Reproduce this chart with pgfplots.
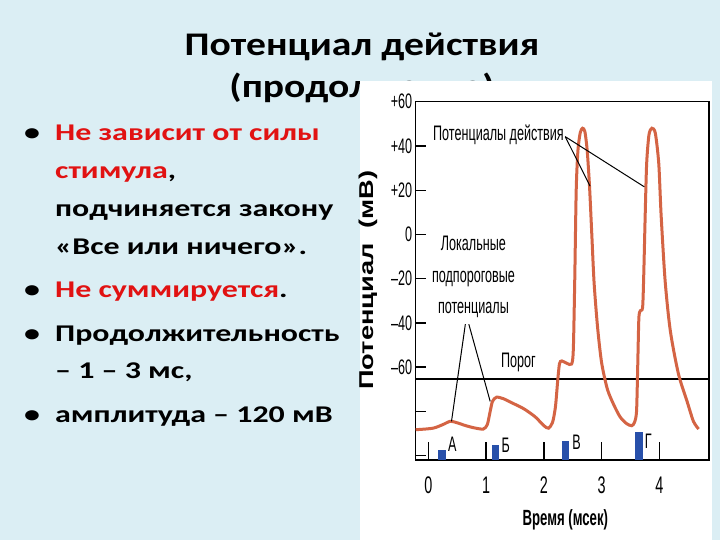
\documentclass[border=0pt]{standalone}
\usepackage{pgfplots}
\pgfplotsset{compat=1.18}
\usepackage{fontspec}
\setmainfont{Carlito}
\newfontfamily\slidefont[FakeStretch=1.2]{Carlito}
\newfontfamily\bulletfont[FakeStretch=1.33]{Carlito}
\newfontfamily\chartfont[FakeStretch=0.6]{Liberation Sans}
\newfontfamily\ylabfont[FakeStretch=1.36]{Liberation Sans}
\definecolor{slidebg}{RGB}{219,238,244}
\definecolor{txtred}{RGB}{225,18,18}
\definecolor{curvec}{RGB}{212,100,68}
\definecolor{stim}{RGB}{40,80,170}
\begin{document}
\begin{tikzpicture}[x=1pt,y=1pt]
\fill[slidebg] (0,0) rectangle (720,540);
% title
\node[anchor=base,font=\slidefont\bfseries\fontsize{33}{36}\selectfont,inner sep=0] at (362,484) {Потенциал действия};
\node[anchor=base,font=\slidefont\bfseries\fontsize{33}{36}\selectfont,inner sep=0] at (362,442.3) {(продолжение)};
% white picture area
\fill[white] (360,0) rectangle (712,458.5);
% bullets
\begin{scope}[every node/.style={anchor=base west,inner sep=0,font=\bulletfont\bfseries\fontsize{24}{28}\selectfont}]
\node at (24,399) {•};
\node at (55,399) {\textcolor{txtred}{Не зависит от силы}};
\node at (55,361) {\textcolor{txtred}{стимула},};
\node at (55,323) {подчиняется закону};
\node at (55,285) {«Все или ничего».};
\node at (24,242) {•};
\node at (55,242) {\textcolor{txtred}{Не суммируется}.};
\node at (24,198) {•};
\node at (55,198) {Продолжительность};
\node at (55,161) {– 1 – 3 мс,};
\node at (24,117) {•};
\node at (55,117) {амплитуда – 120 мВ};
\end{scope}
\begin{axis}[
  at={(415.7pt,80pt)}, anchor=south west,
  scale only axis, width=293.3pt, height=358.3pt,
  xmin=-0.22, xmax=4.86, ymin=-102, ymax=60,
  axis line style={line width=1.5pt},
  tick align=inside,
  xtick pos=bottom, ytick pos=left,
  ytick={-100,-80,-60,-40,-20,0,20,40,60},
  yticklabels={,,–60,–40,–20,0,+20,+40,+60},
  xtick={0,1,2,3,4},
  xticklabels={0,1,2,3,4},
  major tick length=10pt,
  tick style={line width=1.3pt, black},
  xtick style={/pgfplots/major tick length=18pt},
  yticklabel style={font=\chartfont\fontsize{21}{21}\selectfont},
  xticklabel style={font=\chartfont\fontsize{24}{24}\selectfont, yshift=-13pt},
  xlabel={Время (мсек)},
  xlabel style={at={(axis description cs:0.51,-0.167)}, anchor=center, font=\chartfont\bfseries\fontsize{22}{22}\selectfont},
  ylabel={Потенциал\ \ (мВ)},
  ylabel style={at={(axis description cs:-0.163,0.502)}, anchor=center, font=\ylabfont\bfseries\fontsize{20}{20}\selectfont},
  clip=false,
]
% threshold
\addplot[black, line width=1.8pt] coordinates {(-0.22,-65.5) (4.86,-65.5)};
% stimuli
\addplot[fill=stim, draw=none] coordinates {(0.16,-102) (0.30,-102) (0.30,-97.4) (0.16,-97.4)} -- cycle;
\addplot[fill=stim, draw=none] coordinates {(1.10,-102) (1.22,-102) (1.22,-95.2) (1.10,-95.2)} -- cycle;
\addplot[fill=stim, draw=none] coordinates {(2.31,-102) (2.44,-102) (2.44,-93.3) (2.31,-93.3)} -- cycle;
\addplot[fill=stim, draw=none] coordinates {(3.57,-102) (3.71,-102) (3.71,-89.5) (3.57,-89.5)} -- cycle;
% membrane potential
\addplot[curvec, line width=3pt, smooth, tension=0.45] coordinates {
(-0.22,-88.3) (-0.05,-88) (0.1,-87.5) (0.25,-86) (0.38,-84.5) (0.5,-85.2) (0.65,-86.5) (0.8,-87.5) (0.95,-88)
(1.02,-86) (1.07,-80) (1.11,-75.5) (1.18,-73.6) (1.3,-74.3) (1.45,-76.2) (1.65,-78.8) (1.85,-82.5) (2.0,-86.5) (2.08,-87.6)
(2.15,-85) (2.2,-78) (2.24,-66) (2.27,-58.5) (2.31,-57.2) (2.4,-58.3) (2.48,-58.6) (2.51,-52)
(2.535,-20) (2.56,20) (2.59,38) (2.63,46) (2.67,48) (2.71,46.5) (2.75,38) (2.79,22) (2.83,0) (2.87,-22) (2.93,-42)
(3.0,-58) (3.1,-70) (3.21,-77) (3.32,-82.5) (3.43,-85.5) (3.52,-86.5) (3.57,-85) (3.605,-80) (3.625,-60) (3.645,-38)
(3.67,-34.5) (3.71,-33) (3.73,-18) (3.755,9) (3.78,32) (3.82,45) (3.87,48) (3.93,45.8) (3.99,32) (4.03,9) (4.10,-21)
(4.19,-43.6) (4.33,-63) (4.48,-75.5) (4.59,-84.5) (4.68,-88)
};
% annotations
\node[font=\chartfont\fontsize{21}{22}\selectfont] at (axis cs:1.213,45) {Потенциалы действия};
\draw[line width=1pt] (axis cs:2.37,44.2) -- (axis cs:2.80,21.8);
\draw[line width=1pt] (axis cs:2.37,44.2) -- (axis cs:3.74,21.5);
\node[font=\chartfont\fontsize{21}{31.5}\selectfont, align=center] at (axis cs:0.78,-19.4) {Локальные\\подпороговые\\потенциалы};
\draw[line width=1pt] (axis cs:0.64,-40.6) -- (axis cs:0.40,-84.5);
\draw[line width=1pt] (axis cs:0.70,-40.6) -- (axis cs:1.07,-75.5);
\node[font=\chartfont\fontsize{21}{22}\selectfont] at (axis cs:1.56,-58) {Порог};
\begin{scope}[every node/.style={font=\chartfont\fontsize{21}{22}\selectfont}]
\node at (axis cs:0.416,-94.8) {А};
\node at (axis cs:1.34,-95.2) {Б};
\node at (axis cs:2.565,-94.1) {В};
\node at (axis cs:3.81,-93.6) {Г};
\end{scope}
\end{axis}
\end{tikzpicture}
\end{document}
